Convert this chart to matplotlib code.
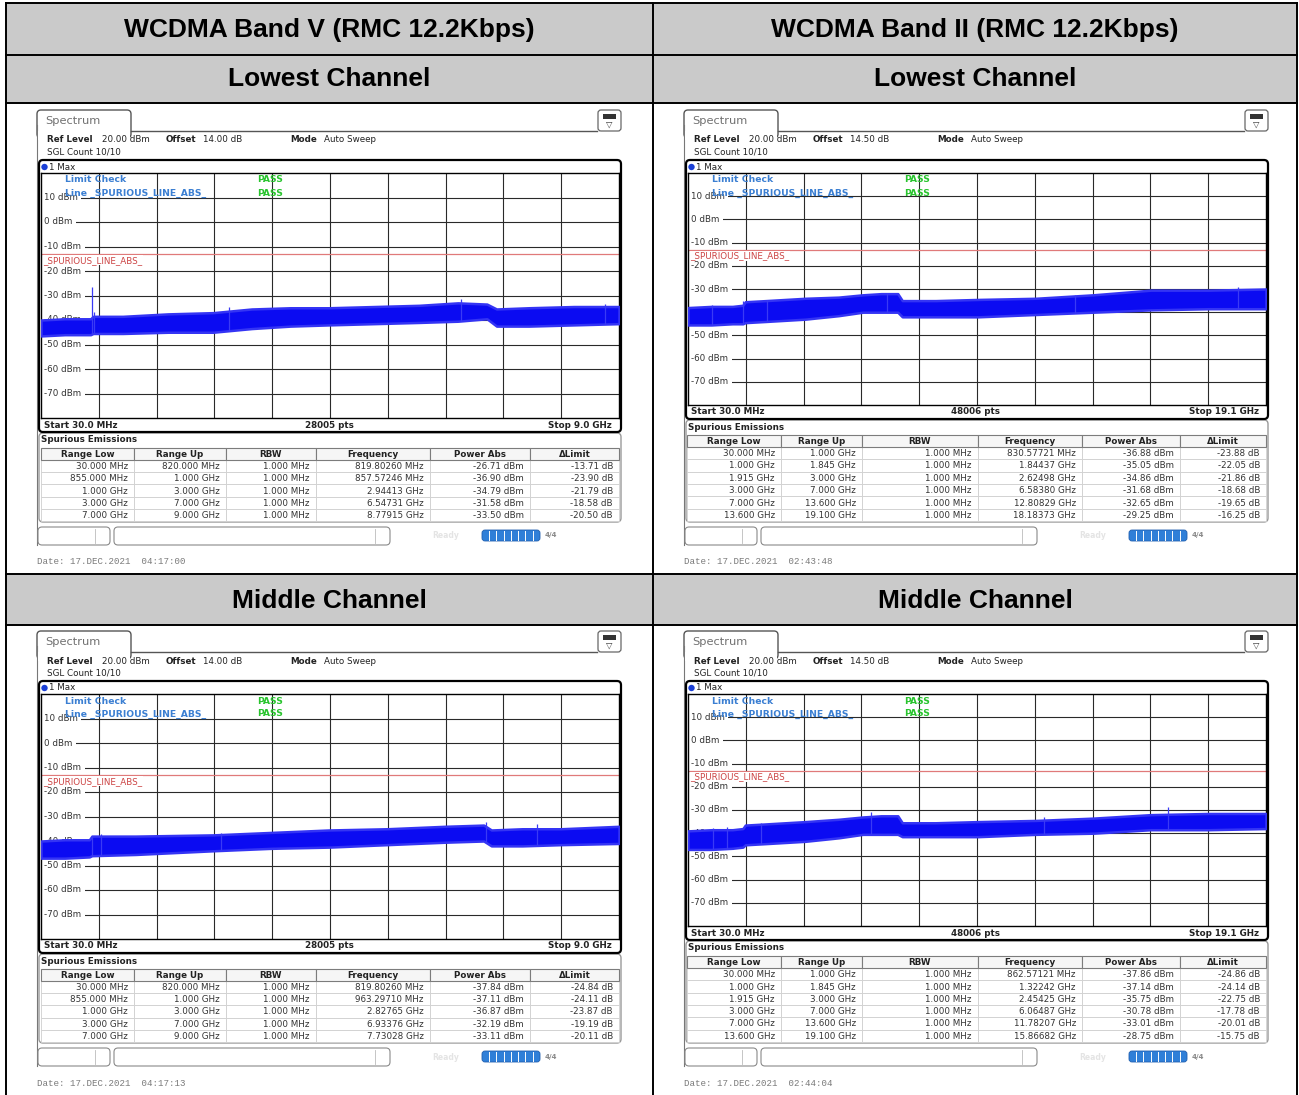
import numpy as np
import matplotlib.pyplot as plt
from matplotlib.patches import Rectangle, FancyBboxPatch, Circle

# ---- outer table text ----
band_titles = ['WCDMA Band V (RMC 12.2Kbps)', 'WCDMA Band II (RMC 12.2Kbps)']
channel_titles = ['Lowest Channel', 'Middle Channel']

LIMIT = -13.0  # dBm, _SPURIOUS_LINE_ABS_

# ---- Band V ----
bv_offset = '14.00 dB'
bv_pts = '28005 pts'
bv_stop_label = 'Stop 9.0 GHz'
bv_stop = 9.0
bv_range_low = ['30.000 MHz', '855.000 MHz', '1.000 GHz', '3.000 GHz', '7.000 GHz']
bv_range_up = ['820.000 MHz', '1.000 GHz', '3.000 GHz', '7.000 GHz', '9.000 GHz']
bv_low_peak_freq = [0.8198026, 0.85757246, 2.94413, 6.54731, 8.77915]
bv_low_peak_power = [-26.71, -36.90, -34.79, -31.58, -33.50]
bv_mid_peak_freq = [0.8198026, 0.9632971, 2.82765, 6.93376, 7.73028]
bv_mid_peak_power = [-37.84, -37.11, -36.87, -32.19, -33.11]
bv_dates = ['17.DEC.2021  04:17:00', '17.DEC.2021  04:17:13']

# trace envelopes (GHz, dBm)
bv_low_f = [0.03, 0.40, 0.80, 0.84, 1.3, 2.0, 2.7, 3.3, 3.9, 4.5, 5.2, 5.9, 6.5, 6.95, 7.1, 7.6, 8.3, 9.0]
bv_low_upper = [-40.0, -39.5, -39.5, -38.5, -38.5, -37.5, -37.0, -35.5, -35.0, -35.0, -34.5, -34.0, -33.0, -33.5, -35.5, -35.0, -34.5, -34.5]
bv_low_lower = [-46.5, -46.0, -46.0, -45.5, -45.5, -45.0, -45.0, -43.5, -42.5, -42.0, -41.5, -41.0, -40.5, -39.5, -42.5, -42.5, -42.0, -41.5]
bv_mid_f = [0.03, 0.40, 0.78, 0.82, 1.5, 2.7, 3.6, 4.5, 5.4, 6.3, 6.9, 7.02, 7.5, 8.1, 9.0]
bv_mid_upper = [-40.0, -39.5, -39.5, -38.0, -38.0, -37.5, -36.5, -35.5, -35.0, -34.0, -33.5, -35.5, -35.0, -35.0, -34.0]
bv_mid_lower = [-47.0, -47.0, -46.5, -46.0, -45.5, -44.0, -43.0, -42.5, -41.5, -40.5, -40.0, -42.0, -42.0, -41.5, -41.0]

# ---- Band II ----
bii_offset = '14.50 dB'
bii_pts = '48006 pts'
bii_stop_label = 'Stop 19.1 GHz'
bii_stop = 19.1
bii_range_low = ['30.000 MHz', '1.000 GHz', '1.915 GHz', '3.000 GHz', '7.000 GHz', '13.600 GHz']
bii_range_up = ['1.000 GHz', '1.845 GHz', '3.000 GHz', '7.000 GHz', '13.600 GHz', '19.100 GHz']
bii_low_peak_freq = [0.83057721, 1.84437, 2.62498, 6.58380, 12.80829, 18.18373]
bii_low_peak_power = [-36.88, -35.05, -34.86, -31.68, -32.65, -29.25]
bii_mid_peak_freq = [0.86257121, 1.32242, 2.45425, 6.06487, 11.78207, 15.86682]
bii_mid_peak_power = [-37.86, -37.14, -35.75, -30.78, -33.01, -28.75]
bii_dates = ['17.DEC.2021  02:43:48', '17.DEC.2021  02:44:04']

bii_low_f = [0.03, 0.8, 1.5, 1.84, 1.92, 2.6, 3.9, 5.0, 5.8, 6.4, 6.95, 7.1, 8.2, 9.6, 11.5, 13.4, 15.3, 17.2, 19.1]
bii_low_upper = [-38.0, -37.5, -37.5, -37.0, -35.5, -35.0, -34.0, -33.5, -32.5, -32.0, -32.0, -35.0, -35.0, -34.5, -34.0, -32.5, -30.5, -30.5, -30.0]
bii_low_lower = [-45.5, -45.5, -45.0, -45.0, -44.5, -44.0, -43.0, -41.5, -40.0, -40.0, -40.0, -42.0, -42.0, -42.0, -41.0, -40.0, -39.0, -38.5, -38.5]
bii_mid_f = [0.03, 0.8, 1.5, 1.84, 1.92, 2.6, 3.9, 5.0, 5.8, 6.4, 6.95, 7.1, 8.2, 9.6, 11.5, 13.4, 15.3, 17.2, 19.1]
bii_mid_upper = [-39.0, -38.5, -38.5, -38.0, -36.5, -36.0, -35.0, -34.0, -33.0, -32.5, -32.5, -35.5, -35.5, -35.0, -34.5, -33.5, -32.0, -31.5, -31.5]
bii_mid_lower = [-47.0, -47.0, -46.5, -46.0, -45.0, -44.5, -43.5, -42.0, -40.5, -40.5, -40.5, -41.5, -41.5, -41.5, -40.5, -40.0, -38.5, -38.5, -38.0]

bands = [
    dict(offset=bv_offset, pts=bv_pts, stop_label=bv_stop_label, stop=bv_stop,
         low=bv_range_low, up=bv_range_up, dates=bv_dates, plot_bottom=418,
         cols=[41, 134, 226, 316, 430, 530, 619],
         peaks=[(bv_low_peak_freq, bv_low_peak_power), (bv_mid_peak_freq, bv_mid_peak_power)],
         traces=[(bv_low_f, bv_low_upper, bv_low_lower), (bv_mid_f, bv_mid_upper, bv_mid_lower)]),
    dict(offset=bii_offset, pts=bii_pts, stop_label=bii_stop_label, stop=bii_stop,
         low=bii_range_low, up=bii_range_up, dates=bii_dates, plot_bottom=405,
         cols=[40, 134, 215, 331, 435, 533, 619],
         peaks=[(bii_low_peak_freq, bii_low_peak_power), (bii_mid_peak_freq, bii_mid_peak_power)],
         traces=[(bii_low_f, bii_low_upper, bii_low_lower), (bii_mid_f, bii_mid_upper, bii_mid_lower)]),
]

W, H = 1299, 1095
SANS = 'DejaVu Sans'
FS = 6.3
BLUE_TXT = '#3b7fd2'
GREEN = '#29c42e'

fig = plt.figure(figsize=(W / 100, H / 100), dpi=100)
bg = fig.add_axes([0, 0, 1, 1])
bg.set_xlim(0, W)
bg.set_ylim(H, 0)
bg.axis('off')


def box(x0, y0, x1, y1, fc='white', ec='black', lw=1.0, r=0, z=1):
    if r:
        p = FancyBboxPatch((x0, y0), x1 - x0, y1 - y0,
                           boxstyle=f'round,pad=0,rounding_size={r}',
                           fc=fc, ec=ec, lw=lw, zorder=z)
    else:
        p = Rectangle((x0, y0), x1 - x0, y1 - y0, fc=fc, ec=ec, lw=lw, zorder=z)
    bg.add_patch(p)


def txt(x, y, s, size=FS, weight='normal', color='#222222', ha='left', family=SANS, z=5):
    bg.text(x, y, s, fontsize=size, fontweight=weight, color=color, ha=ha,
            va='center', family=family, zorder=z)


def fmt_freq(f):
    if f < 1:
        return f'{f * 1000:.5f} MHz'
    return f'{f:.5f} GHz'


def draw_shot(ox, oy, b, k):
    X = lambda x: x + ox
    Y = lambda y: y + oy
    pb = b['plot_bottom']
    bar_b = pb + 14
    tt = bar_b + 1

    # window tab + header line
    box(X(37), Y(110), X(131), Y(138), ec='#555555', lw=1.0, r=4, z=1)
    box(X(37.6), Y(131), X(130.4), Y(140), ec='none', lw=0, z=1.5)
    bg.plot([X(131), X(597)], [Y(131), Y(131)], color='#555555', lw=1.0, zorder=2)
    bg.plot([X(37), X(37)], [Y(125), Y(545)], color='#777777', lw=0.8, zorder=1)
    txt(X(45), Y(121), 'Spectrum', size=8.2, color='#707070')
    box(X(598), Y(110), X(621), Y(131), ec='#666666', lw=0.9, r=3, z=2)
    box(X(603), Y(114), X(616), Y(119), fc='#333333', ec='none', z=3)
    txt(X(609.5), Y(124.5), '\u25bd', size=6, ha='center', color='#333333')

    # settings lines
    txt(X(47), Y(140), 'Ref Level', weight='bold')
    txt(X(102), Y(140), '20.00 dBm')
    txt(X(166), Y(140), 'Offset', weight='bold')
    txt(X(203), Y(140), b['offset'])
    txt(X(290), Y(140), 'Mode', weight='bold')
    txt(X(324), Y(140), 'Auto Sweep')
    txt(X(47), Y(152), 'SGL Count 10/10')

    # diagram frame
    box(X(39), Y(160), X(621), Y(bar_b), fc='none', ec='black', lw=1.6, r=4, z=4)
    bg.add_patch(Circle((X(44.5), Y(167)), 3.2, fc='#1a3fd6', ec='none', zorder=5))
    txt(X(49), Y(167), '1 Max')

    # trace axes
    x0, x1, y0, y1 = X(41), X(619), Y(173), Y(pb)
    ax = fig.add_axes([x0 / W, 1 - y1 / H, (x1 - x0) / W, (y1 - y0) / H])
    ax.patch.set_alpha(0)
    stop = b['stop']
    ax.set_xlim(0.03, stop)
    ax.set_ylim(-80, 20)
    ax.set_xticks([])
    ax.set_yticks([])
    for s in ax.spines.values():
        s.set_color('black')
        s.set_linewidth(1.0)
    for v in range(-70, 20, 10):
        ax.axhline(v, color='#2a2a2a', lw=0.8, zorder=1)
        ax.text(0.006, v, f'{v} dBm', transform=ax.get_yaxis_transform(), fontsize=FS,
                family=SANS, color='#333333', va='center', ha='left', zorder=2,
                bbox=dict(fc='white', ec='none', pad=2.2))
    for i in range(1, 10):
        ax.axvline(0.03 + i * (stop - 0.03) / 10, color='#2a2a2a', lw=0.8, zorder=1)
    ax.axhline(LIMIT, color='#e07a7a', lw=0.9, zorder=2.5)
    ax.text(0.004, LIMIT - 0.8, '_SPURIOUS_LINE_ABS_', transform=ax.get_yaxis_transform(),
            fontsize=FS, family=SANS, color='#cc4444', va='top', ha='left', zorder=2.6,
            bbox=dict(fc='white', ec='none', pad=0.3))

    f, up, lo = b['traces'][k]
    ax.fill_between(f, lo, up, facecolor='#0b0bf2', edgecolor='#3434f4', lw=1.8, zorder=3)
    pf, pp = b['peaks'][k]
    base = np.interp(pf, f, lo)
    ax.vlines(pf, base, pp, color='#3a3af5', lw=0.9, zorder=3)

    # limit check overlay, drawn on top of the grid labels
    def ax_txt(x, y, s, color):
        ax.text((X(x) - x0) / (x1 - x0), (y1 - Y(y)) / (y1 - y0), s, transform=ax.transAxes,
                fontsize=FS + 0.4, fontweight='bold', color=color, family=SANS,
                va='center', ha='left', zorder=4)
    ax_txt(65, 180, 'Limit Check', BLUE_TXT)
    ax_txt(65, 193, 'Line _SPURIOUS_LINE_ABS_', BLUE_TXT)
    ax_txt(257, 180, 'PASS', GREEN)
    ax_txt(257, 193, 'PASS', GREEN)

    # start / stop bar
    txt(X(44), Y(pb + 7), 'Start 30.0 MHz', weight='bold')
    txt(X(329), Y(pb + 7), b['pts'], weight='bold', ha='center')
    txt(X(612), Y(pb + 7), b['stop_label'], weight='bold', ha='right')

    # spurious emissions table
    box(X(39), Y(tt), X(621), Y(522), fc='none', ec='#9a9a9a', lw=1.0, r=4, z=2)
    txt(X(41), Y(tt + 7), 'Spurious Emissions', weight='bold')
    cols = [X(c) for c in b['cols']]
    heads = ['Range Low', 'Range Up', 'RBW', 'Frequency', 'Power Abs', '\u0394Limit']
    hy0, hy1 = Y(tt + 15), Y(tt + 27)
    for j, h in enumerate(heads):
        box(cols[j], hy0, cols[j + 1], hy1, fc='#f6f6f6', ec='#7c7c7c', lw=0.8, z=3)
        txt((cols[j] + cols[j + 1]) / 2, (hy0 + hy1) / 2 + 0.5, h, weight='bold', ha='center')
    n = len(b['low'])
    rh = (Y(521) - hy1) / n
    for i in range(n):
        ry0 = hy1 + i * rh
        cells = [b['low'][i], b['up'][i], '1.000 MHz', fmt_freq(pf[i]),
                 f'{pp[i]:.2f} dBm', f'{pp[i] - LIMIT:.2f} dB']
        for j, c in enumerate(cells):
            box(cols[j], ry0, cols[j + 1], ry0 + rh, ec='#cfcfcf', lw=0.6, z=2)
            txt(cols[j + 1] - 6, ry0 + rh / 2 + 0.5, c, ha='right', color='#333333')

    # status bar
    box(X(38), Y(527), X(110), Y(545), ec='#8a8a8a', lw=0.8, r=4, z=2)
    box(X(114), Y(527), X(390), Y(545), ec='#8a8a8a', lw=0.8, r=4, z=2)
    bg.plot([X(95), X(95)], [Y(529), Y(543)], color='#bbbbbb', lw=0.6, zorder=3)
    bg.plot([X(375), X(375)], [Y(529), Y(543)], color='#bbbbbb', lw=0.6, zorder=3)
    txt(X(432), Y(536), 'Ready', size=5.5, color='#e4e4e4', weight='bold')
    box(X(482), Y(530), X(540), Y(541), fc='#2f7fd8', ec='#1f5fb0', lw=0.6, r=3, z=2)
    for s in range(1, 8):
        xs = X(482 + s * 58 / 8)
        bg.plot([xs, xs], [Y(531), Y(540)], color='white', lw=0.7, zorder=3)
    txt(X(545), Y(535.5), '4/4', size=5, weight='bold', color='#8a8a8a')

    # date stamp
    txt(X(37), Y(562), 'Date: ' + b['dates'][k], size=6.6, color='#7a7a7a',
        family='Liberation Mono')


# ---- outer table ----
for y0, y1 in [(3, 55), (55, 103), (574, 625)]:
    box(6, y0, 1297, y1, fc='#cacaca', ec='none', z=0)
for y in [3, 55, 103, 574, 625]:
    bg.plot([6, 1297], [y, y], color='black', lw=1.4, zorder=6)
for x in [6, 653, 1297]:
    bg.plot([x, x], [3, 1095], color='black', lw=1.4, zorder=6)

centers = [329.5, 975]
for c, t in enumerate(band_titles):
    txt(centers[c], 29.5, t, size=19, weight='bold', ha='center',
        family='Liberation Sans', color='black')
    txt(centers[c], 79.5, channel_titles[0], size=19, weight='bold', ha='center',
        family='Liberation Sans', color='black')
    txt(centers[c], 600.5, channel_titles[1], size=19, weight='bold', ha='center',
        family='Liberation Sans', color='black')

for c, b in enumerate(bands):
    for k in range(2):
        draw_shot(c * 647, k * 521, b, k)

fig.savefig('out.png', dpi=100, facecolor='white')
